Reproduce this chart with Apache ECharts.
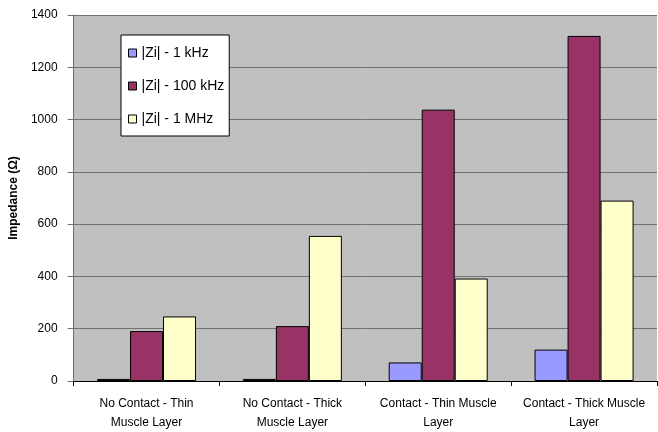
<!DOCTYPE html>
<html>
<head>
<meta charset="utf-8">
<script src="https://cdn.jsdelivr.net/npm/echarts@6/dist/echarts.min.js"></script>
<style>
  html, body { margin: 0; padding: 0; background: #fff; }
  #chart { width: 658px; height: 432px; }
</style>
</head>
<body>
<div id="chart"></div>
<script>
// Impedance magnitude per measurement configuration
var categories = [
  'No Contact - Thin\nMuscle Layer',
  'No Contact - Thick\nMuscle Layer',
  'Contact - Thin Muscle\nLayer',
  'Contact - Thick Muscle\nLayer'
];
var seriesNames = ['|Zi| - 1 kHz', '|Zi| - 100 kHz', '|Zi| - 1 MHz'];
var z1kHz = [8, 8, 71, 120];
var z100kHz = [191, 210, 1038, 1320];
var z1MHz = [247, 555, 392, 690];
var seriesColors = ['#9999FF', '#993366', '#FFFFCC'];

var font = 'Liberation Sans, Arial, sans-serif';

function bar(name, data, color) {
  return {
    name: name,
    type: 'bar',
    data: data,
    barWidth: 33,
    barGap: '0%',
    itemStyle: { color: color, borderColor: '#000', borderWidth: 1 }
  };
}

var chart = echarts.init(document.getElementById('chart'), null, { renderer: 'canvas' });
chart.setOption({
  animation: false,
  backgroundColor: '#ffffff',
  grid: {
    left: 70, right: 1, top: 15, bottom: 49,
    show: true, backgroundColor: '#C0C0C0', borderWidth: 0
  },
  legend: {
    orient: 'vertical',
    left: 121, top: 35,
    padding: [11, 5, 10, 7],
    itemGap: 19,
    itemWidth: 8, itemHeight: 8,
    backgroundColor: '#ffffff',
    borderColor: '#000000', borderWidth: 1,
    icon: 'rect',
    textStyle: { fontFamily: font, fontSize: 14, color: '#000' },
    data: seriesNames.map(function (n, i) {
      return { name: n, itemStyle: { color: seriesColors[i], borderColor: '#000', borderWidth: 1 } };
    })
  },
  xAxis: {
    type: 'category',
    data: categories,
    axisLine: { lineStyle: { color: '#000', width: 1 } },
    axisTick: { show: true, length: 5, lineStyle: { color: '#000' } },
    axisLabel: {
      fontFamily: font, fontSize: 12, color: '#000',
      lineHeight: 19, margin: 13, interval: 0
    }
  },
  yAxis: {
    type: 'value',
    min: 0, max: 1400, interval: 200,
    name: 'Impedance (Ω)',
    nameLocation: 'middle',
    nameGap: 50,
    nameTextStyle: { fontFamily: font, fontSize: 12, fontWeight: 'bold', color: '#000' },
    axisLine: { show: true, lineStyle: { color: '#707070' } },
    axisTick: { show: true, length: 6, lineStyle: { color: '#707070' } },
    axisLabel: {
      fontFamily: font, fontSize: 12, color: '#000', margin: 16,
      formatter: function (v) { return String(v); }
    },
    splitLine: { show: true, lineStyle: { color: '#707070', width: 1 } }
  },
  series: [
    bar(seriesNames[0], z1kHz, seriesColors[0]),
    bar(seriesNames[1], z100kHz, seriesColors[1]),
    bar(seriesNames[2], z1MHz, seriesColors[2])
  ]
});
</script>
</body>
</html>
